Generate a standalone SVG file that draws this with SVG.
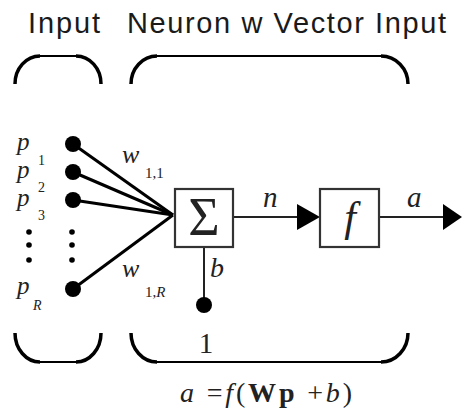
<svg xmlns="http://www.w3.org/2000/svg" width="462" height="413" viewBox="0 0 462 413">
<style>
.hd{font-family:"Liberation Sans",Arial,sans-serif;font-size:29px;fill:#1a1a1a}
.m{font-family:"Liberation Serif","Times New Roman",serif;fill:#222}
.it{font-style:italic}
.br{fill:none;stroke:#000;stroke-width:3.5;stroke-linecap:butt}
.bl{fill:none;stroke:#000;stroke-width:2}
.box{fill:#fff;stroke:#333;stroke-width:2.2}
.ln{fill:none;stroke:#000;stroke-width:3}
.thin{fill:none;stroke:#222;stroke-width:2}
.dot{fill:#000}
</style>
<rect width="462" height="413" fill="#fff"/>
<g id="headings">
<text class="hd" x="28" y="33" textLength="72" lengthAdjust="spacing">Input</text>
<text class="hd" x="127" y="33" textLength="319" lengthAdjust="spacing">Neuron w Vector Input</text>
</g>
<g id="brackets">
<path class="br" d="M15,84 A25,28 0 0 1 40,56"/>
<path class="bl" d="M40,56 L76,56"/>
<path class="br" d="M76,56 A25,28 0 0 1 101,84"/>
<path class="br" d="M131,84 A26,28 0 0 1 157,56"/>
<path class="bl" d="M157,56 L381,56"/>
<path class="br" d="M381,56 A27,28 0 0 1 408,84"/>
<path class="br" d="M15,333 A25,29 0 0 0 40,362"/>
<path class="bl" d="M40,362 L76,362"/>
<path class="br" d="M76,362 A25,29 0 0 0 101,333"/>
<path class="br" d="M131,333 A26,29 0 0 0 157,362"/>
<path class="bl" d="M157,362 L381,362"/>
<path class="br" d="M381,362 A27,29 0 0 0 408,333"/>
</g>
<g id="connectors">
<line class="ln" x1="73" y1="144" x2="173" y2="215"/>
<line class="ln" x1="73" y1="172" x2="173" y2="215"/>
<line class="ln" x1="73" y1="200" x2="173" y2="215"/>
<line class="ln" x1="73" y1="289" x2="173" y2="215"/>
<line class="thin" x1="233" y1="217" x2="300" y2="217"/>
<polygon class="dot" points="297,204 320,217 297,230"/>
<line class="thin" x1="379" y1="217" x2="446" y2="217"/>
<polygon class="dot" points="443,204 462,217 443,230"/>
<line class="thin" x1="204" y1="247" x2="204" y2="300"/>
</g>
<g id="inputs">
<circle class="dot" cx="73" cy="144" r="8"/>
<circle class="dot" cx="73" cy="172" r="8"/>
<circle class="dot" cx="73" cy="200" r="8"/>
<circle class="dot" cx="73" cy="289" r="8"/>
<circle class="dot" cx="29" cy="232" r="2.8"/>
<circle class="dot" cx="29" cy="245" r="2.8"/>
<circle class="dot" cx="29" cy="260" r="2.8"/>
<circle class="dot" cx="72" cy="232" r="2.8"/>
<circle class="dot" cx="72" cy="245" r="2.8"/>
<circle class="dot" cx="72" cy="260" r="2.8"/>
<text class="m it" x="17" y="150" font-size="25">p</text>
<text class="m" x="38" y="165" font-size="14">1</text>
<text class="m it" x="17" y="178" font-size="25">p</text>
<text class="m" x="38" y="192" font-size="14">2</text>
<text class="m it" x="17" y="206" font-size="25">p</text>
<text class="m" x="38" y="220" font-size="14">3</text>
<text class="m it" x="17" y="294" font-size="25">p</text>
<text class="m it" x="33" y="310" font-size="14">R</text>
</g>
<g id="weights">
<text class="m it" x="122" y="163" font-size="26">w</text>
<text class="m" x="145" y="178" font-size="15">1,1</text>
<text class="m it" x="122" y="277" font-size="26">w</text>
<text class="m" x="145" y="297" font-size="15">1,<tspan font-style="italic">R</tspan></text>
</g>
<g id="sum">
<rect class="box" x="175" y="189" width="58" height="58"/>
<text class="m" x="204" y="235" font-size="54" text-anchor="middle">Σ</text>
</g>
<g id="bias">
<circle class="dot" cx="204" cy="305" r="8"/>
<text class="m it" x="210" y="277" font-size="28">b</text>
<text class="m" x="206" y="353" font-size="29" text-anchor="middle">1</text>
</g>
<g id="transfer">
<rect class="box" x="320" y="189" width="59" height="58"/>
<text class="m it" x="350" y="231" font-size="42" text-anchor="middle">f</text>
</g>
<g id="signals">
<text class="m it" x="263" y="207" font-size="29">n</text>
<text class="m it" x="407" y="207" font-size="29">a</text>
</g>
<g id="formula">
<text class="m" x="180" y="402" font-size="28" textLength="172" lengthAdjust="spacing"><tspan font-style="italic">a</tspan> =<tspan font-style="italic">f</tspan>(<tspan font-weight="bold">Wp</tspan> +<tspan font-style="italic">b</tspan>)</text>
</g>
</svg>
